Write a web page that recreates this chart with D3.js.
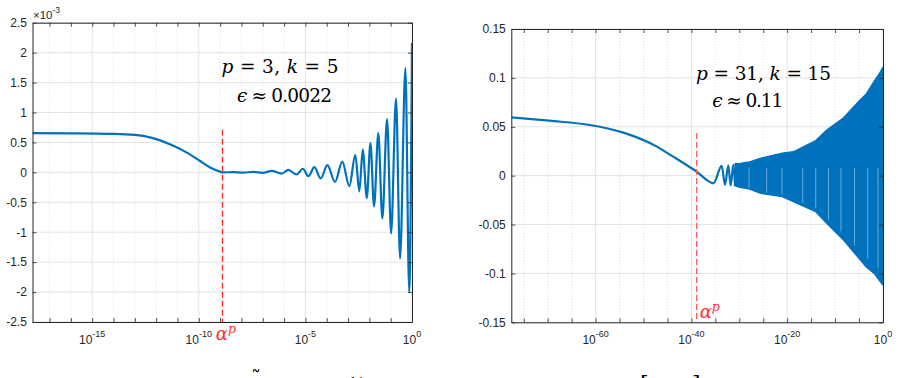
<!DOCTYPE html>
<html><head><meta charset="utf-8">
<script src="https://cdn.jsdelivr.net/npm/d3@7"></script>
<style>body{margin:0;background:#fff}svg{display:block}</style>
</head><body>
<svg id="c" width="899" height="378"></svg>
<script>
// ---------- DATA (x as log10 exponent) ----------
// Left panel: p = 3, k = 5 ; y values in units of 1e-3
const leftExp = [-17.8,-16,-14.2,-13,-12.2,-11.3,-10.56,-9.94,-9.47,-9.0,-8.89,
  -8.4,-7.9,-7.44,-7.0,-6.58,-6.11,-5.8,-5.41,-5.12,-4.86,-4.58,-4.28,-3.97,-3.61,
  -3.27,-2.94,-2.66,-2.47,-2.31,-2.12,-1.95,-1.78,-1.58,-1.39,-1.17,-0.98,-0.75,-0.56,-0.31,-0.13,0];
const leftVal = [0.655,0.652,0.643,0.625,0.575,0.46,0.33,0.19,0.08,0.012,0.0,
  0.004,-0.004,0.008,-0.008,0.025,-0.02,0.04,-0.036,0.06,-0.064,0.086,-0.10,0.12,-0.16,
  0.18,-0.23,0.29,-0.32,0.38,-0.43,0.49,-0.57,0.655,-0.77,0.89,-1.02,1.23,-1.44,1.74,-2.0,2.16];
const leftXMajor = [-15,-10,-5,0];
const leftXMinor = [-17,-16,-15,-14,-13,-12,-11,-10,-9,-8,-7,-6,-5,-4,-3,-2,-1,0];
const leftYTicks = [-2.5,-2,-1.5,-1,-0.5,0,0.5,1,1.5,2,2.5];
const leftAlphaExp = -8.89;

// Right panel: p = 31, k = 15
const rightExp = [-77.6,-69.7,-61.2,-54.2,-47.2,-43.8,-40.3,-38.9,-36.8,-35.4,
  -33.67,-32.99,-32.3,-31.8,-31.25,-30.9];
const rightVal = [0.0597,0.0562,0.0518,0.044,0.0297,0.0194,0.0086,0.0041,-0.0044,-0.0078,
  0.0099,-0.0095,0.0105,-0.0100,0.0110,-0.0105];
// dense-oscillation envelope
const bandExp   = [-30.9,-29.85,-27.97,-25.68,-21.02,-18.73,-14.05,-11.75,-8.29,-4.8,-3.6,-1.67,-0.84,0];
const bandUpper = [0.0122,0.0127,0.014,0.0178,0.023,0.0245,0.036,0.0467,0.059,0.0774,0.083,0.098,0.104,0.111];
const bandLower = [-0.0105,-0.012,-0.0135,-0.018,-0.0215,-0.0266,-0.037,-0.0487,-0.0657,-0.086,-0.093,-0.101,-0.107,-0.112];
const streakExp = [-27.97,-24.28,-21.09,-16.76,-14.05,-11.38,-8.77,-5.95,-3.19,-1.04];
const rightXMajor = [-60,-40,-20,0];
const rightXMinor = [-75,-70,-65,-60,-55,-50,-45,-40,-35,-30,-25,-20,-15,-10,-5,0];
const rightYTicks = [-0.15,-0.1,-0.05,0,0.05,0.1,0.15];
const rightAlphaExp = -38.9;

// ---------- DRAW ----------
const svg = d3.select("#c");
svg.append("rect").attr("width",899).attr("height",378).attr("fill","#fff");
const AX = "#262626", BLUE = "#0072BD", RED = "#ff3030";
const SANS = "'Liberation Sans', Arial, Helvetica, sans-serif";
const SERIF = "'DejaVu Serif', 'Liberation Serif', serif";

function panel(o){
  const g = svg.append("g");
  const x = d3.scaleLog().domain([Math.pow(10,o.xMinExp),1]).range([o.x0,o.x1]);
  const y = d3.scaleLinear().domain(o.yDomain).range([o.y1,o.y0]);
  const X = e => x(Math.pow(10,e));
  const cid = "clip"+o.id;
  svg.append("clipPath").attr("id",cid).append("rect")
    .attr("x",o.x0).attr("y",o.y0-2).attr("width",o.x1-o.x0+1.5).attr("height",o.y1-o.y0+4);

  // grid
  g.append("g").selectAll("line").data(o.xMinor.filter(e=>!o.xMajor.includes(e) && e>o.xMinExp)).join("line")
    .attr("x1",X).attr("x2",X).attr("y1",o.y0).attr("y2",o.y1)
    .attr("stroke","#cfcfcf").attr("stroke-width",0.7).attr("stroke-dasharray","1,2");
  g.append("g").selectAll("line").data(o.xMajor).join("line")
    .attr("x1",X).attr("x2",X).attr("y1",o.y0).attr("y2",o.y1)
    .attr("stroke","#e3e3e3").attr("stroke-width",1);
  g.append("g").selectAll("line").data(o.yTicks).join("line")
    .attr("x1",o.x0).attr("x2",o.x1).attr("y1",y).attr("y2",y)
    .attr("stroke","#e3e3e3").attr("stroke-width",1);

  // data
  const cg = g.append("g").attr("clip-path",`url(#${cid})`);
  if(o.band){
    const bx = o.band.exp, bu = o.band.upper, bl = o.band.lower;
    const pts = bx.map((e,i)=>[e,bu[i],bl[i]]);
    cg.append("path").datum(pts)
      .attr("d", d3.area().x(d=>X(d[0])).y0(d=>y(d[2])).y1(d=>y(d[1])))
      .attr("fill",BLUE).attr("stroke",BLUE).attr("stroke-width",1.2);
    const lowAt = d3.scaleLinear().domain(bx).range(bl);
    cg.append("g").selectAll("line").data(o.band.streaks).join("line")
      .attr("x1",X).attr("x2",X).attr("y1",y(0.008)).attr("y2",e=>y(lowAt(e)*0.9))
      .attr("stroke","#fff").attr("stroke-opacity",0.45).attr("stroke-width",0.9);
  }
  const pts = o.exp.map((e,i)=>[e,o.val[i]]);
  cg.append("path").datum(pts)
    .attr("d", d3.line().x(d=>X(d[0])).y(d=>y(d[1])).curve(d3.curveMonotoneX))
    .attr("fill","none").attr("stroke",BLUE).attr("stroke-width",2.2).attr("stroke-linejoin","round");

  // alpha^p marker
  g.append("line").attr("x1",X(o.alphaExp)).attr("x2",X(o.alphaExp))
    .attr("y1",y(o.alphaTop)).attr("y2",o.y1)
    .attr("stroke",o.alphaColor).attr("stroke-width",1.3).attr("stroke-dasharray","6,3");
  const at = g.append("text").attr("x",X(o.alphaLabel[0])).attr("y",y(o.alphaLabel[1]))
    .attr("fill",RED).attr("font-family",SERIF).attr("font-style","italic").attr("font-size",18);
  at.append("tspan").text("α");
  at.append("tspan").attr("dy",-7).attr("font-size",12.5).text("p");

  // axes (inward ticks, box on)
  const minorVals = o.xMinor.filter(e=>e>o.xMinExp).map(e=>Math.pow(10,e));
  const styleAxis = s => { s.select(".domain").attr("stroke",AX).attr("stroke-width",1);
    s.selectAll(".tick line").attr("stroke",AX).attr("stroke-width",0.8);
    s.selectAll("text").attr("fill",AX).attr("font-family",SANS).attr("font-size",12); };
  g.append("g").attr("transform",`translate(0,${o.y0})`)
    .call(d3.axisTop(x).tickValues(minorVals).tickSize(-4).tickSizeOuter(0).tickFormat(""))
    .call(styleAxis);
  g.append("g").attr("transform",`translate(0,${o.y1})`)
    .call(d3.axisBottom(x).tickValues(minorVals).tickSize(-4).tickSizeOuter(0).tickFormat(""))
    .call(styleAxis);
  // major x labels 10^n
  const lab = g.append("g").selectAll("text").data(o.xMajor).join("text")
    .attr("x",X).attr("y",o.y1+21.5).attr("text-anchor","middle")
    .attr("fill",AX).attr("font-family",SANS).attr("font-size",12);
  lab.append("tspan").text("10");
  lab.append("tspan").attr("dy",-6.5).attr("font-size",9).text(d=>d===0?"0":String(d));

  g.append("g").attr("transform",`translate(${o.x0},0)`)
    .call(d3.axisLeft(y).tickValues(o.yTicks).tickSize(-4).tickSizeOuter(0).tickPadding(5.5)
      .tickFormat(d=>String(d)))
    .call(styleAxis);
  g.append("g").attr("transform",`translate(${o.x1},0)`)
    .call(d3.axisRight(y).tickValues(o.yTicks).tickSize(-4).tickSizeOuter(0).tickFormat(""))
    .call(styleAxis);

  // annotation (LaTeX-like text)
  o.notes.forEach(n=>{
    const t = g.append("text").attr("x",n.x).attr("y",n.y).attr("text-anchor","middle")
      .attr("font-family",SERIF).attr("font-size",18.5).attr("fill","#000")
      .attr("textLength",n.w).attr("lengthAdjust","spacing");
    n.parts.forEach(p=>{ const s=t.append("tspan").text(p[0]); if(p[1]) s.attr("font-style","italic"); });
  });
  return {x,y,X,g};
}

panel({id:"L", x0:32.5, x1:412, y0:22.7, y1:322, xMinExp:-17.8, yDomain:[-2.5,2.5],
  exp:leftExp, val:leftVal, xMajor:leftXMajor, xMinor:leftXMinor, yTicks:leftYTicks,
  alphaExp:leftAlphaExp, alphaTop:0.71, alphaLabel:[-9.2,-2.8], alphaColor:"#ff2a2a",
  notes:[{x:280,y:73,w:117,parts:[["p",1],[" = 3,  "],["k",1],[" = 5"]]},
         {x:284.5,y:102,w:95,parts:[["ϵ",1],[" ≈ 0.0022"]]}]});

panel({id:"R", x0:511.3, x1:883, y0:29, y1:322.3, xMinExp:-77.6, yDomain:[-0.15,0.15],
  exp:rightExp, val:rightVal, xMajor:rightXMajor, xMinor:rightXMinor, yTicks:rightYTicks,
  band:{exp:bandExp, upper:bandUpper, lower:bandLower, streaks:streakExp},
  alphaExp:rightAlphaExp, alphaTop:0.0437, alphaLabel:[-38.27,-0.1452], alphaColor:"#ff5c5c",
  notes:[{x:763.5,y:80,w:135,parts:[["p",1],[" = 31,  "],["k",1],[" = 15"]]},
         {x:747.8,y:107,w:71,parts:[["ϵ",1],[" ≈ 0.11"]]}]});

// ×10^-3 exponent label
const ex = svg.append("text").attr("x",33).attr("y",18.5).attr("fill",AX)
  .attr("font-family",SANS).attr("font-size",11.5);
ex.append("tspan").text("×10");
ex.append("tspan").attr("dy",-5.5).attr("font-size",8.5).text("-3");

// partially visible x-axis labels (cut off at bottom edge, as in the reference)
svg.append("text").attr("x",251).attr("y",385).attr("font-family",SERIF).attr("font-size",20).text("˜");
svg.append("text").attr("x",348).attr("y",387).attr("font-family",SERIF).attr("font-style","italic").attr("font-size",13).text("1/");
svg.append("text").attr("x",640).attr("y",392).attr("font-family",SERIF).attr("font-size",22).text("[");
svg.append("text").attr("x",692).attr("y",392).attr("font-family",SERIF).attr("font-size",22).text("]");
</script>
</body></html>
